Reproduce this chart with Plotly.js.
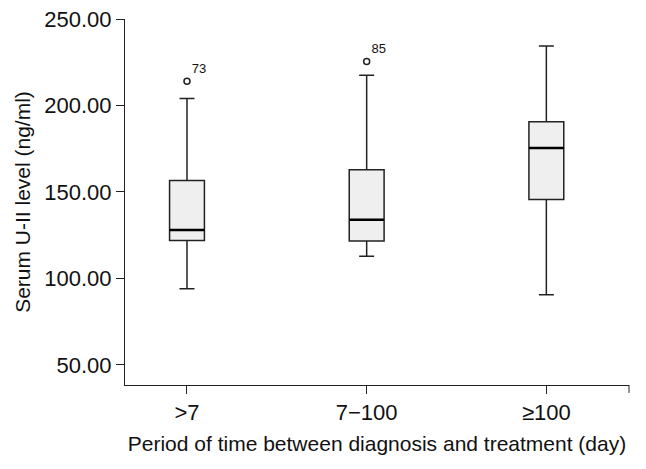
<!DOCTYPE html>
<html>
<head>
<meta charset="utf-8">
<script src="https://cdn.plot.ly/plotly-3.0.1.min.js"></script>
<style>
  html, body { margin: 0; padding: 0; background: #fff; }
  #chart { width: 646px; height: 469px; }
</style>
</head>
<body>
<div id="chart"></div>
<script>
// Box statistics (ng/ml)
const groups = ['>7', '7\u2212100', '\u2265100'];
const lowerWhisker = [94.0, 112.9, 90.6];
const q1 = [121.9, 121.7, 145.7];
const median = [128.0, 134.0, 175.4];
const q3 = [156.7, 162.9, 190.6];
const upperWhisker = [204.0, 217.5, 234.4];

// Outliers with case labels
const outlierGroup = [0, 1];
const outlierValue = [214.0, 225.5];
const outlierLabel = ['73', '85'];

const pos = groups.map((g, i) => i);
const boxW = 0.194;
const lineCol = '#222';
const font = 'Liberation Sans, Arial, sans-serif';

const traces = [
  {
    type: 'box',
    x: pos,
    q1: q1,
    median: median,
    q3: q3,
    lowerfence: lowerWhisker,
    upperfence: upperWhisker,
    width: boxW,
    whiskerwidth: 0.43,
    fillcolor: '#efefef',
    line: { color: lineCol, width: 1.5 },
    boxpoints: false,
    hoverinfo: 'skip'
  },
  {
    // heavier median bars, as in the original
    type: 'scatter',
    mode: 'lines',
    x: pos.flatMap(p => [p - boxW / 2, p + boxW / 2, null]),
    y: median.flatMap(m => [m, m, null]),
    line: { color: '#000', width: 2.5 },
    hoverinfo: 'skip'
  },
  {
    type: 'scatter',
    mode: 'markers+text',
    x: outlierGroup,
    y: outlierValue,
    text: outlierLabel,
    textposition: 'top right',
    textfont: { family: font, size: 13, color: '#111' },
    marker: { symbol: 'circle-open', size: 6, color: lineCol, line: { width: 1.5 } },
    hoverinfo: 'skip'
  }
];

const layout = {
  width: 646,
  height: 469,
  showlegend: false,
  paper_bgcolor: '#fff',
  plot_bgcolor: '#fff',
  margin: { l: 125, r: 17, t: 19, b: 84 },
  font: { family: font, color: '#111' },
  xaxis: {
    range: [-0.345, 2.46],
    tickvals: pos,
    ticktext: groups,
    ticks: 'outside',
    ticklen: 8,
    tickcolor: lineCol,
    showline: true,
    linecolor: lineCol,
    linewidth: 1,
    showgrid: false,
    zeroline: false,
    tickfont: { size: 22, family: font },
    title: { text: 'Period of time between diagnosis and treatment (day)', font: { size: 21, family: font }, standoff: 11 }
  },
  yaxis: {
    range: [38.4, 250],
    tickvals: [50, 100, 150, 200, 250],
    tickformat: '.2f',
    ticks: 'outside',
    ticklen: 8,
    tickcolor: lineCol,
    showline: true,
    linecolor: lineCol,
    linewidth: 1,
    showgrid: false,
    zeroline: false,
    tickfont: { size: 22, family: font },
    title: { text: 'Serum U-II level (ng/ml)', font: { size: 21, family: font }, standoff: 7 }
  },
  shapes: [
    { type: 'line', xref: 'paper', yref: 'paper', x0: 1, x1: 1, y0: 0, y1: -0.0216,
      line: { color: lineCol, width: 1 } }
  ]
};

Plotly.newPlot('chart', traces, layout, { displayModeBar: false, staticPlot: true });
</script>
</body>
</html>
